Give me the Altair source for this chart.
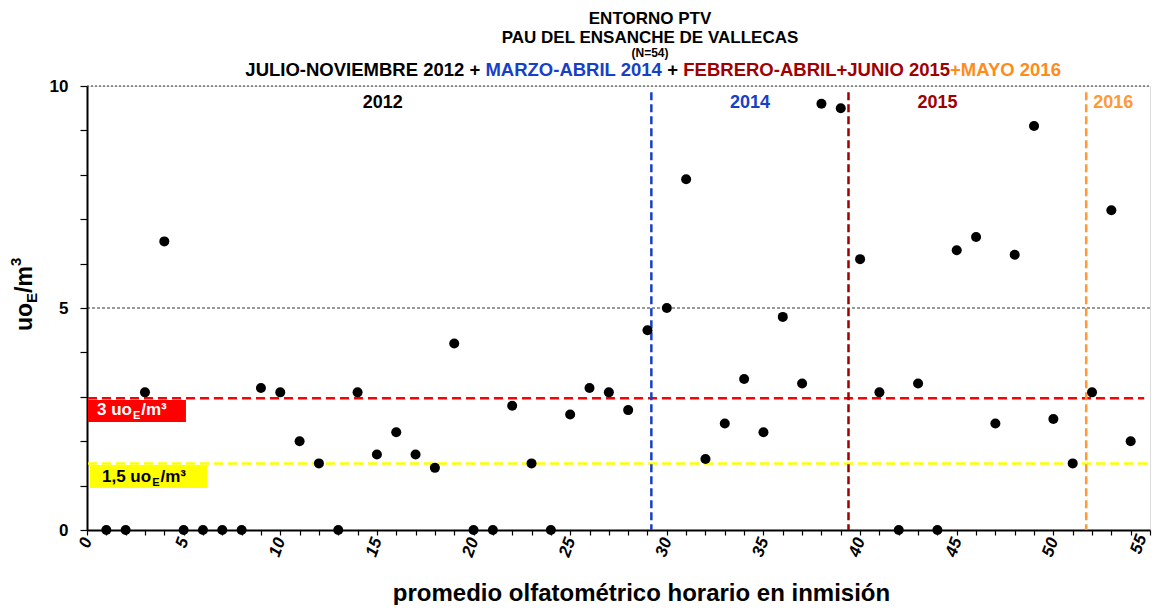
import altair as alt
import pandas as pd

# ---------------- data ----------------
muestra = list(range(1, 55))
valor = [0, 0, 3.1, 6.5, 0, 0, 0, 0, 3.2, 3.1,
         2.0, 1.5, 0, 3.1, 1.7, 2.2, 1.7, 1.4, 4.2, 0,
         0, 2.8, 1.5, 0, 2.6, 3.2, 3.1, 2.7, 4.5, 5.0,
         7.9, 1.6, 2.4, 3.4, 2.2, 4.8, 3.3, 9.6, 9.5, 6.1,
         3.1, 0, 3.3, 0, 6.3, 6.6, 2.4, 6.2, 9.1, 2.5,
         1.5, 3.1, 7.2, 2.0]

periodos = ["2012", "2014", "2015", "2016"]
periodo_x = [15.3, 34.3, 44.0, 53.1]
periodo_color = ["#000000", "#1740c8", "#a00000", "#ff9933"]

cortes_x = [29.2, 39.4, 51.7]
cortes_color = ["#1740c8", "#a00000", "#ff9933"]

umbral_alto = 2.97
umbral_bajo = 1.5

x_ticks = list(range(0, 56))
y_ticks = list(range(0, 11))

subtitulo = ["JULIO-NOVIEMBRE 2012", "+", "MARZO-ABRIL 2014", "+", "FEBRERO-ABRIL+JUNIO 2015", "+MAYO 2016"]
subtitulo_color = ["#000000", "#000000", "#1740c8", "#000000", "#a00000", "#ff8c1a"]

FONT = "Liberation Sans"
W, H = 1063, 444

# approximate bold Arial/Liberation widths (em/1000) for chaining text pieces
_WID = dict(A=722, B=722, C=722, D=722, E=667, F=611, G=778, H=722, I=278, J=556, K=722, L=611,
            M=833, N=722, O=778, P=667, Q=778, R=722, S=667, T=611, U=722, V=667, W=944, X=667,
            Y=667, Z=611)
_WID.update({d: 556 for d in "0123456789"})
_WID.update({" ": 278, "+": 584, "-": 333, "(": 333, ")": 333, "=": 584})

def text_w(s, size):
    return sum(_WID.get(c, 600) for c in s) / 1000 * size

# ---------------- encodings ----------------
xscale = alt.Scale(domain=[0, 55], nice=False, zero=False)
yscale = alt.Scale(domain=[0, 10], nice=False, zero=False)

xaxis = alt.Axis(
    values=x_ticks,
    labelExpr="datum.value % 5 == 0 ? datum.label : ''",
    labelAngle=290, labelFontStyle="italic", labelFontWeight="bold",
    labelFontSize=17, labelFont=FONT, labelColor="black", labelPadding=3,
    labelBaseline={"condition": {"test": "datum.value == 55", "value": "bottom"}, "value": "middle"},
    labelOverlap=False, labelFlush=False,
    tickColor="black", tickSize=5, tickWidth=1.2,
    domainColor="black", domainWidth=2, grid=False,
    title="promedio olfatométrico horario en inmisión",
    titleFont=FONT, titleFontSize=24, titleFontWeight="bold", titleColor="black",
    titleX=554, titleY=70, titleBaseline="alphabetic",
)
yaxis = alt.Axis(
    values=y_ticks,
    labelExpr="datum.value % 5 == 0 ? datum.label : ''",
    labelFontSize=17, labelFontWeight="bold", labelFont=FONT, labelColor="black",
    labelPadding=12, labelOverlap=False, labelFlush=False,
    tickColor="black", tickSize=7, tickWidth=1.2,
    domainColor="black", domainWidth=2, grid=False, title=None,
)

def X(f="x"):
    return alt.X(f"{f}:Q", scale=xscale, axis=xaxis)

def Y(f="y"):
    return alt.Y(f"{f}:Q", scale=yscale, axis=yaxis)

# ---------------- layers ----------------
grid_df = pd.DataFrame({"y": [5], "x": [0], "x2": [55]})
grid5 = alt.Chart(grid_df).mark_rule(color="black", strokeDash=[3, 2], strokeWidth=0.8).encode(
    y=Y(), x=X(), x2="x2:Q")
top_df = pd.DataFrame({"y": [10], "x": [0], "x2": [55]})
grid10 = alt.Chart(top_df).mark_rule(color="#333333", strokeDash=[2, 2], strokeWidth=1.2).encode(
    y=Y(), x=X(), x2="x2:Q")

red_df = pd.DataFrame({"y": [umbral_alto], "x": [0.05], "x2": [54.7]})
red_line = alt.Chart(red_df).mark_rule(color="#ff0000", strokeDash=[9, 5], strokeWidth=2.5).encode(
    y=Y(), x=X(), x2="x2:Q")
yel_df = pd.DataFrame({"y": [umbral_bajo], "x": [0.05], "x2": [55]})
yel_line = alt.Chart(yel_df).mark_rule(color="#ffff00", strokeDash=[9, 5], strokeWidth=2.5).encode(
    y=Y(), x=X(), x2="x2:Q")

cortes_df = pd.DataFrame({"x": cortes_x, "c": cortes_color, "y": [9.86] * 3, "y2": [0] * 3})
cortes = alt.Chart(cortes_df).mark_rule(strokeDash=[8, 4], strokeWidth=2.5).encode(
    x=X(), y=Y(), y2="y2:Q", color=alt.Color("c:N", scale=None))

pts_df = pd.DataFrame({"x": muestra, "y": valor})
pts = alt.Chart(pts_df).mark_point(filled=True, shape="circle", size=100, color="black", opacity=1).encode(
    x=X(), y=Y())

per_df = pd.DataFrame({"x": periodo_x, "y": [9.5] * 4, "t": periodos, "c": periodo_color})
per = alt.Chart(per_df).mark_text(font=FONT, fontSize=18, fontWeight="bold", baseline="alphabetic").encode(
    x=X(), y=Y(), text="t:N", color=alt.Color("c:N", scale=None))

# threshold label boxes
box_df = pd.DataFrame({"x": [0.05, 0.155], "x2": [5.12, 6.21], "y": [2.93, 1.464], "y2": [2.43, 0.946],
                       "c": ["#ff0000", "#ffff00"]})
boxes = alt.Chart(box_df).mark_rect().encode(
    x=X(), x2="x2:Q", y=Y(), y2="y2:Q", color=alt.Color("c:N", scale=None))

def label_pieces(x0, yb, main, color, size=17):
    # main text, subscript E, then /m³ ; chained with dx offsets
    wmain = {"3 uo": 2.056, "1,5 uo": 2.89}[main] * size
    d = pd.DataFrame({"x": [x0], "y": [yb]})
    small = int(size * 0.7)
    a = alt.Chart(d).mark_text(font=FONT, fontSize=size, fontWeight="bold", align="left",
                               baseline="alphabetic", color=color, text=main).encode(x=X(), y=Y())
    b = alt.Chart(d).mark_text(font=FONT, fontSize=small, fontWeight="bold", align="left",
                               baseline="alphabetic", color=color, text="E",
                               dx=wmain + 1, dy=4).encode(x=X(), y=Y())
    c = alt.Chart(d).mark_text(font=FONT, fontSize=size, fontWeight="bold", align="left",
                               baseline="alphabetic", color=color, text="/m³",
                               dx=wmain + 1 + 0.667 * small + 1).encode(x=X(), y=Y())
    return [a, b, c]

lab_red = label_pieces(0.517, 2.59, "3 uo", "white")
lab_yel = label_pieces(0.776, 1.081, "1,5 uo", "black")

# ---------------- title & y-axis title (text annotations) ----------------
one = pd.DataFrame({"k": [0]})

def txt(text, x, y, size, color="black", align="center", angle=0, weight="bold"):
    return alt.Chart(one).mark_text(text=text, font=FONT, fontSize=size, fontWeight=weight,
                                    color=color, align=align, baseline="alphabetic",
                                    angle=angle).encode(x=alt.value(x), y=alt.value(y))

CX = 563
titles = [
    txt("ENTORNO PTV", CX, -62.5, 17),
    txt("PAU DEL ENSANCHE  DE VALLECAS", CX, -43.5, 17),
    txt("(N=54)", CX, -29, 12),
]

# coloured subtitle line, chained piece by piece
gaps = [1, 1, 1, 1, 0]
fs = 18.5
em_total = sum(text_w(s, 1) for s in subtitulo) + sum(gaps) * 0.278
xpos = CX + 4 - em_total * fs / 2
for i, (s, c) in enumerate(zip(subtitulo, subtitulo_color)):
    titles.append(txt(s, xpos, -10, fs, color=c, align="left"))
    xpos += text_w(s, fs)
    if i < len(gaps):
        xpos += gaps[i] * 0.278 * fs

# y title: uo  E(sub) /m  3(sup), rotated
big, sm = 23, 15
y0 = 245
ytitle = [
    txt("uo", -55, y0, big, align="left", angle=270),
    txt("E", -50, y0 - 1.222 * big, sm, align="left", angle=270),
    txt("/m", -55, y0 - 1.222 * big - 0.667 * sm, big, align="left", angle=270),
    txt("3", -66, y0 - 1.222 * big - 0.667 * sm - 1.167 * big, sm, align="left", angle=270),
]

layers = [grid5, grid10, yel_line, red_line, cortes, boxes, pts, per] + lab_red + lab_yel + titles + ytitle

chart = alt.layer(*layers).properties(
    width=W, height=H,
    autosize=alt.AutoSizeParams(type="none"),
    padding={"left": 79, "top": 78, "right": 2, "bottom": 75},
).configure_view(
    fill="#d9d9d9", stroke="#7f7f7f", strokeWidth=1.5
).configure(background="white")

chart.save("out.html", embed_options={"renderer": "svg", "actions": False})
